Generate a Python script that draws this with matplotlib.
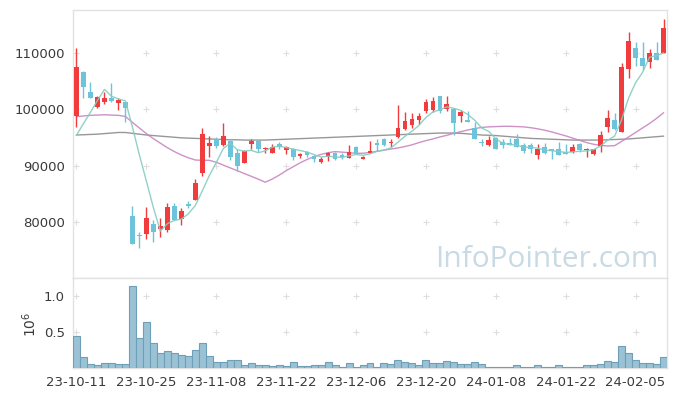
import numpy as np
import matplotlib.pyplot as plt

# x tick labels (every 10 trading days)
tick_labels = ['23-10-11', '23-10-25', '23-11-08', '23-11-22', '23-12-06',
               '23-12-20', '24-01-08', '24-01-22', '24-02-05']

open_ = [98850, 106600, 103140, 100460, 101300, 101960, 101120, 101250, 81120, 77730,
         77850, 79690, 78800, 78620, 82730, 80590, 83140, 83850, 88680, 93500,
         94690, 93620, 94340, 92200, 90530, 93860, 94340, 92910, 92250, 93930,
         92790, 92910, 91710, 92430, 91710, 90710, 91530, 92320, 91890, 91360,
         93390, 91180, 92320, 93980, 94690, 93980, 95180, 96480, 97200, 98090,
         99750, 99930, 102320, 100050, 100050, 98860, 98140, 96780, 94220, 93680,
         95000, 94220, 93980, 94690, 93620, 93620, 91890, 93390, 92910, 93030,
         92430, 92430, 93930, 92790, 92020, 93500, 96960, 98090, 96000, 107200,
         110890, 109110, 108390, 110050, 110050]
high = [110900, 106900, 104820, 102430, 103140, 104700, 101960, 101300, 82780, 78140,
        82680, 80270, 80710, 83390, 83390, 82370, 83620, 87550, 96610, 95230,
        95180, 97550, 94520, 92910, 92730, 94820, 94520, 93390, 93800, 94220,
        93500, 93090, 92190, 92600, 91960, 91530, 92500, 92430, 92190, 93620,
        93500, 91710, 94390, 94820, 95000, 94820, 100770, 99460, 99340, 99340,
        101840, 102140, 102430, 102320, 100180, 99870, 99750, 97780, 94820, 95290,
        95180, 94690, 95000, 95590, 94100, 94100, 93800, 94100, 92960, 94220,
        93800, 93800, 94100, 93210, 93030, 96180, 99870, 99280, 108270, 113750,
        111960, 111960, 110770, 111960, 116130]
low = [96950, 101960, 101960, 100230, 100890, 101400, 99930, 97680, 76100, 75350,
       76960, 76480, 77370, 78210, 80290, 79390, 82500, 83850, 88090, 91600,
       93090, 93500, 90950, 89030, 90530, 93030, 92430, 92190, 92250, 92910,
       92140, 90950, 91300, 91530, 90640, 90410, 90820, 91000, 91120, 91360,
       92010, 91120, 92190, 92600, 93500, 93390, 94880, 96360, 96780, 97370,
       99340, 99570, 99340, 99750, 95410, 97680, 97680, 94690, 93500, 93500,
       92910, 93210, 93620, 93390, 92320, 92320, 91250, 92010, 91250, 91890,
       92070, 92190, 92430, 91600, 91840, 92430, 96070, 96360, 96000, 105540,
       107680, 107070, 107320, 108860, 110050]
close = [107500, 104030, 102070, 102250, 101960, 101480, 101660, 100290, 76120, 77430,
         80710, 78140, 79330, 82680, 80410, 81840, 82780, 86840, 95590, 93980,
         93500, 95280, 91530, 89930, 92600, 94340, 93030, 93210, 93270, 93390,
         93270, 91530, 92010, 91890, 91120, 91120, 92320, 91250, 91530, 92500,
         92320, 91530, 92600, 93750, 93680, 94220, 96610, 97860, 98270, 98860,
         101250, 101540, 99750, 100940, 97500, 99460, 97780, 94690, 93980, 94520,
         92910, 93680, 93750, 93390, 92550, 92910, 92910, 92190, 92680, 91890,
         92070, 93390, 92790, 93030, 92910, 95410, 98440, 96480, 107500, 112200,
         109110, 107680, 110050, 108860, 114520]

ma5 = [95400, 97500, 99500, 101600, 103560, 102360, 101880, 101530, 96900, 91900,
       87240, 82540, 78350, 79660, 80250, 80480, 81410, 82910, 85490, 88210,
       90540, 93040, 93980, 92840, 92570, 92740, 92290, 92620, 93290, 93450,
       93230, 92930, 92690, 92420, 91960, 91530, 91690, 91540, 91470, 91740,
       91980, 91830, 92100, 92540, 92780, 93160, 94170, 95220, 96130, 97160,
       98570, 99560, 99930, 100470, 100200, 99840, 99090, 98070, 96680, 96090,
       94780, 93960, 93770, 93650, 93260, 93260, 93100, 92790, 92650, 92520,
       92350, 92440, 92560, 92630, 92840, 93510, 94520, 95250, 98150, 102010,
       104750, 106590, 109310, 109580, 110040]
ma20 = [98700, 98850, 98950, 99000, 99050, 99000, 98950, 98750, 97700, 96700,
        95700, 94800, 94000, 93200, 92500, 91900, 91400, 91000, 90950, 90950,
        90600, 90100, 89600, 89100, 88600, 88100, 87600, 87050, 87600, 88300,
        89100, 89800, 90500, 91100, 91600, 92000, 92300, 92500, 92400, 92300,
        92200, 92200, 92350, 92550, 92750, 92950, 93150, 93400, 93700, 94100,
        94450, 94750, 95100, 95400, 95750, 96050, 96350, 96600, 96800, 96900,
        96950, 97000, 97000, 96950, 96900, 96750, 96550, 96300, 96000, 95650,
        95300, 94900, 94500, 94100, 93800, 93600, 93500, 93550, 94300, 95100,
        95900, 96700, 97500, 98400, 99400]
ma60 = [95450, 95500, 95550, 95600, 95700, 95800, 95900, 95900, 95750, 95600,
        95450, 95350, 95250, 95150, 95050, 94950, 94900, 94850, 94800, 94750,
        94700, 94650, 94600, 94600, 94550, 94550, 94550, 94550, 94600, 94650,
        94700, 94750, 94800, 94850, 94900, 94950, 95000, 95050, 95100, 95150,
        95200, 95250, 95300, 95350, 95400, 95450, 95500, 95550, 95600, 95650,
        95700, 95750, 95800, 95800, 95800, 95750, 95650, 95550, 95450, 95400,
        95350, 95250, 95150, 95050, 94950, 94850, 94800, 94750, 94700, 94650,
        94600, 94550, 94550, 94550, 94550, 94550, 94600, 94650, 94700, 94750,
        94850, 94950, 95050, 95150, 95250]

volume = [440000, 148000, 51000, 37000, 65000, 65000, 51000, 51000, 1134000, 412000,
          634000, 343000, 204000, 231000, 204000, 176000, 162000, 245000, 343000, 162000,
          79000, 79000, 106000, 106000, 37000, 65000, 37000, 37000, 23000, 37000,
          23000, 79000, 23000, 23000, 37000, 37000, 79000, 37000, 19000, 65000,
          19000, 37000, 65000, 19000, 65000, 51000, 106000, 79000, 65000, 37000,
          106000, 65000, 65000, 93000, 79000, 51000, 51000, 79000, 51000, 19000,
          19000, 19000, 19000, 37000, 19000, 19000, 37000, 19000, 19000, 37000,
          19000, 19000, 19000, 37000, 37000, 51000, 93000, 79000, 300000, 204000,
          106000, 65000, 65000, 51000, 148000]

o = np.array(open_)
h = np.array(high)
l = np.array(low)
c = np.array(close)
x = np.arange(len(c))

up_color = '#f03c3c'
down_color = '#6cc3da'
grid_color = '#dedede'
spine_color = '#e2e2e2'
text_color = '#3a3a3a'

fig = plt.figure(figsize=(6.77, 3.96), dpi=100)
ax = fig.add_axes([73 / 677, 118 / 396, 594 / 677, 268 / 396])
axv = fig.add_axes([73 / 677, 28 / 396, 594 / 677, 90 / 396], sharex=ax)

# candles
colors = np.where(c >= o, up_color, down_color)
ax.vlines(x, l, h, colors=colors, linewidth=1.0, zorder=3)
body = np.maximum(np.abs(c - o), 150)
ax.bar(x, body, bottom=np.minimum(o, c), width=0.68, color=colors, zorder=4)

# moving averages
ax.plot(x, ma60, color='#8c8c8c', linewidth=1.0, alpha=0.9, zorder=2)
ax.plot(x, ma20, color='#c985c1', linewidth=1.0, alpha=0.9, zorder=2)
ax.plot(x, ma5, color='#86ccc2', linewidth=1.0, alpha=0.9, zorder=5)

price_ticks = [80000, 90000, 100000, 110000]
ax.set_xlim(-0.5, len(c) - 0.5)
ax.set_ylim(70000, 117700)
ax.set_yticks(price_ticks)
ax.set_yticklabels([str(t) for t in price_ticks])

xt = np.arange(0, len(c), 10)
gx, gy = np.meshgrid(xt, price_ticks)
ax.plot(gx.ravel(), gy.ravel(), ls='none', marker='+', ms=4.5, mew=0.8,
        color=grid_color, zorder=1)

# volume
vol = np.array(volume) / 1e6
axv.bar(x, vol, width=1.0, color='#9bc2d4', edgecolor='#6d9fb9', linewidth=0.8, zorder=3)
axv.set_ylim(0, 1.25)
axv.set_yticks([0.5, 1.0])
axv.set_yticklabels(['0.5', '1.0'])
gx, gy = np.meshgrid(xt, [0.5, 1.0])
axv.plot(gx.ravel(), gy.ravel(), ls='none', marker='+', ms=4.5, mew=0.8,
         color=grid_color, zorder=1)
axv.set_xticks(xt)
axv.set_xticklabels(tick_labels)

for a in (ax, axv):
    for s in a.spines.values():
        s.set_color(spine_color)
        s.set_linewidth(1.0)
    a.tick_params(length=0, labelsize=9.5, labelcolor=text_color, pad=6)
ax.tick_params(axis='x', labelbottom=False)

fig.text(30 / 677, 1 - 324 / 396, '$10^6$', rotation=90, ha='center', va='center',
         fontsize=10, color=text_color)

fig.text(659 / 677, 1 - 267 / 396, 'InfoPointer.com', ha='right', va='baseline',
         fontsize=21.5, family='Open Sans', color='#c8dae4')

fig.savefig('out.png', dpi=100)
